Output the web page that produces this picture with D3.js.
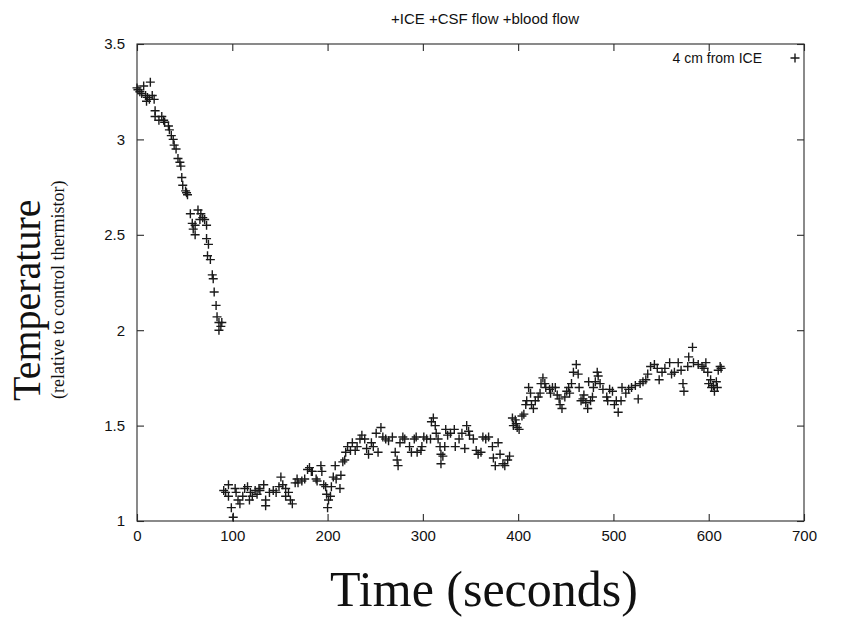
<!DOCTYPE html>
<html>
<head>
<meta charset="utf-8">
<script src="https://cdn.jsdelivr.net/npm/d3@7"></script>
<style>
  body { margin: 0; background: #fff; }
  svg { display: block; }
  .tick-label { font-family: 'Liberation Sans', Arial, sans-serif; font-size: 15px; fill: #111; }
</style>
</head>
<body>
<div id="chart"></div>
<script>
// Temperature vs time, 4 cm from ICE

const chartTitle = '+ICE +CSF flow +blood flow';
const seriesName = '4 cm from ICE';

// x ticks (seconds) and y ticks (relative temperature)
const xTicks = [0, 100, 200, 300, 400, 500, 600, 700];
const yTicks = [1, 1.5, 2, 2.5, 3, 3.5];
const yTickLabels = ['1', '1.5', '2', '2.5', '3', '3.5'];

// first segment: cooling phase
const time1 = [0, 1, 3, 5, 7, 9, 10, 11, 13, 14, 16, 18, 19, 19, 23, 26, 28, 29, 33, 34,
    36, 38, 39, 41, 43, 45, 46, 47, 48, 51, 52, 53, 56, 58, 59, 61, 61, 64, 66, 67,
    69, 71, 73, 73, 74, 75, 77, 79, 80, 81, 83, 84, 86, 86, 88, 89];
const temp1 = [3.27, 3.26, 3.25, 3.24, 3.28, 3.23, 3.20, 3.22, 3.21, 3.30, 3.23, 3.21, 3.15, 3.12, 3.10, 3.12, 3.10, 3.09, 3.07, 3.05,
    3.02, 3.00, 2.97, 2.95, 2.90, 2.88, 2.86, 2.80, 2.76, 2.73, 2.72, 2.71, 2.61, 2.56, 2.53, 2.55, 2.50, 2.63, 2.58, 2.61,
    2.59, 2.58, 2.55, 2.48, 2.39, 2.45, 2.37, 2.29, 2.27, 2.20, 2.13, 2.07, 2.04, 2.00, 2.02, 2.04];

// second segment: recovery phase
const time2 = [91, 93, 96, 96, 99, 101, 103, 104, 106, 108, 111, 113, 116, 118, 119, 121, 124, 126, 128, 129,
    133, 135, 135, 139, 143, 146, 149, 151, 153, 156, 156, 159, 161, 163, 166, 168, 169, 173, 176, 179,
    181, 183, 184, 188, 189, 193, 194, 196, 198, 199, 200, 201, 203, 204, 206, 208, 209, 213, 214, 216,
    218, 219, 221, 224, 226, 229, 231, 234, 236, 239, 241, 243, 246, 248, 251, 253, 256, 258, 261, 264,
    268, 271, 273, 274, 276, 279, 281, 286, 288, 291, 293, 294, 298, 299, 301, 304, 308, 309, 311, 313,
    314, 316, 318, 319, 319, 321, 323, 324, 326, 329, 333, 334, 338, 341, 344, 346, 348, 349, 353, 356,
    358, 361, 363, 366, 369, 373, 374, 376, 379, 381, 384, 386, 389, 391, 394, 395, 397, 398, 399, 401,
    404, 406, 408, 409, 411, 413, 414, 416, 418, 421, 423, 424, 426, 428, 429, 433, 434, 436, 439, 441,
    443, 444, 446, 449, 451, 453, 454, 456, 458, 461, 463, 464, 466, 468, 469, 471, 473, 474, 476, 478,
    479, 481, 483, 484, 486, 489, 493, 494, 496, 499, 501, 503, 505, 508, 509, 513, 516, 519, 523, 526,
    528, 531, 534, 536, 539, 543, 546, 548, 551, 554, 559, 561, 564, 568, 571, 573, 574, 578, 579, 583,
    584, 589, 593, 595, 597, 599, 600, 602, 603, 605, 606, 608, 609, 610, 612, 613];
const temp2 = [1.16, 1.15, 1.19, 1.13, 1.07, 1.02, 1.17, 1.15, 1.11, 1.09, 1.13, 1.17, 1.18, 1.11, 1.15, 1.13, 1.16, 1.14, 1.17, 1.16,
    1.19, 1.11, 1.08, 1.15, 1.16, 1.15, 1.18, 1.23, 1.19, 1.17, 1.13, 1.15, 1.11, 1.09, 1.20, 1.22, 1.20, 1.21, 1.22, 1.27,
    1.28, 1.26, 1.26, 1.22, 1.21, 1.29, 1.26, 1.19, 1.18, 1.14, 1.07, 1.11, 1.13, 1.18, 1.23, 1.29, 1.22, 1.17, 1.24, 1.31,
    1.32, 1.36, 1.39, 1.37, 1.41, 1.37, 1.39, 1.43, 1.45, 1.43, 1.38, 1.35, 1.41, 1.39, 1.46, 1.36, 1.49, 1.44, 1.43, 1.42,
    1.44, 1.36, 1.32, 1.29, 1.41, 1.44, 1.43, 1.39, 1.36, 1.43, 1.44, 1.36, 1.37, 1.39, 1.44, 1.43, 1.43, 1.52, 1.54, 1.50,
    1.46, 1.43, 1.39, 1.35, 1.30, 1.34, 1.39, 1.48, 1.45, 1.46, 1.48, 1.39, 1.43, 1.46, 1.38, 1.50, 1.47, 1.45, 1.43, 1.37,
    1.35, 1.36, 1.44, 1.43, 1.44, 1.39, 1.33, 1.29, 1.41, 1.35, 1.30, 1.29, 1.32, 1.34, 1.54, 1.50, 1.53, 1.51, 1.49, 1.48,
    1.55, 1.56, 1.61, 1.63, 1.70, 1.67, 1.61, 1.59, 1.63, 1.65, 1.67, 1.72, 1.75, 1.72, 1.70, 1.69, 1.67, 1.70, 1.70, 1.66,
    1.64, 1.61, 1.59, 1.65, 1.68, 1.70, 1.67, 1.72, 1.78, 1.82, 1.77, 1.70, 1.63, 1.64, 1.66, 1.62, 1.59, 1.73, 1.63, 1.65,
    1.70, 1.73, 1.78, 1.76, 1.72, 1.69, 1.65, 1.63, 1.69, 1.68, 1.61, 1.63, 1.57, 1.63, 1.70, 1.67, 1.69, 1.70, 1.71, 1.64,
    1.72, 1.73, 1.74, 1.77, 1.81, 1.82, 1.80, 1.74, 1.78, 1.80, 1.83, 1.77, 1.78, 1.83, 1.79, 1.72, 1.68, 1.81, 1.86, 1.91,
    1.83, 1.82, 1.81, 1.80, 1.83, 1.78, 1.72, 1.74, 1.70, 1.71, 1.68, 1.73, 1.70, 1.79, 1.81, 1.80];

const width = 851, height = 618;
const plot = { left: 137, right: 804, top: 44, bottom: 521 };

const svg = d3.select('#chart').append('svg')
    .attr('width', width)
    .attr('height', height);

const xScale = d3.scaleLinear().domain([0, 700]).range([plot.left, plot.right]);
const yScale = d3.scaleLinear().domain([1, 3.5]).range([plot.bottom, plot.top]);

const frameColor = '#2a2a2a';
const tickLen = 7;

// frame
svg.append('rect')
    .attr('x', plot.left).attr('y', plot.top)
    .attr('width', plot.right - plot.left).attr('height', plot.bottom - plot.top)
    .style('fill', 'none').style('stroke', frameColor).style('stroke-width', 1.1);

// axes (gnuplot style: inward ticks, mirrored)
const bottomAxis = d3.axisBottom(xScale).tickValues(xTicks).tickSize(-tickLen).tickPadding(9);
const topAxis = d3.axisTop(xScale).tickValues(xTicks).tickSize(-tickLen).tickFormat('');
const leftAxis = d3.axisLeft(yScale).tickValues(yTicks).tickSize(-tickLen).tickPadding(12)
    .tickFormat((d, i) => yTickLabels[i]);
const rightAxis = d3.axisRight(yScale).tickValues(yTicks).tickSize(-tickLen).tickFormat('');

function styleAxis(sel) {
    sel.attr('font-size', null).attr('font-family', null);
    sel.select('.domain').remove();
    sel.selectAll('.tick line').style('stroke', frameColor).style('stroke-width', 1.1);
    sel.selectAll('.tick text').attr('class', 'tick-label');
}

svg.append('g').attr('transform', `translate(0,${plot.bottom})`).call(bottomAxis).call(styleAxis);
svg.append('g').attr('transform', `translate(0,${plot.top})`).call(topAxis).call(styleAxis);
svg.append('g').attr('transform', `translate(${plot.left},0)`).call(leftAxis).call(styleAxis);
svg.append('g').attr('transform', `translate(${plot.right},0)`).call(rightAxis).call(styleAxis);

// title
svg.append('text')
    .attr('x', 485).attr('y', 24)
    .attr('text-anchor', 'middle')
    .style('font-family', "'Liberation Sans', Arial, sans-serif")
    .style('font-size', '15px')
    .style('fill', '#111')
    .text(chartTitle);

// axis labels
svg.append('text')
    .attr('transform', 'translate(40,401) rotate(-90)')
    .style('font-family', "'Liberation Serif', 'Times New Roman', serif")
    .style('font-size', '40px')
    .style('fill', '#111')
    .text('Temperature');

svg.append('text')
    .attr('transform', 'translate(64,399) rotate(-90)')
    .style('font-family', "'Liberation Serif', 'Times New Roman', serif")
    .style('font-size', '18px')
    .style('fill', '#111')
    .text('(relative to control thermistor)');

svg.append('text')
    .attr('x', 484).attr('y', 606)
    .attr('text-anchor', 'middle')
    .style('font-family', "'Liberation Serif', 'Times New Roman', serif")
    .style('font-size', '50px')
    .style('fill', '#111')
    .text('Time (seconds)');

// data points as "+" markers
const data = time1.map((t, i) => ({ t, v: temp1[i] }))
    .concat(time2.map((t, i) => ({ t, v: temp2[i] })));

const half = 4.5;
const plusPath = `M${-half},0H${half}M0,${-half}V${half}`;

svg.append('g')
    .selectAll('path')
    .data(data)
    .enter()
    .append('path')
    .attr('d', plusPath)
    .attr('transform', d => `translate(${xScale(d.t)},${yScale(d.v)})`)
    .style('fill', 'none')
    .style('stroke', '#1a1a1a')
    .style('stroke-width', 1.4);

// legend
svg.append('text')
    .attr('x', 762).attr('y', 63)
    .attr('text-anchor', 'end')
    .style('font-family', "'Liberation Sans', Arial, sans-serif")
    .style('font-size', '14px')
    .style('fill', '#111')
    .text(seriesName);

svg.append('path')
    .attr('d', plusPath)
    .attr('transform', 'translate(795,58)')
    .style('fill', 'none')
    .style('stroke', '#1a1a1a')
    .style('stroke-width', 1.4);
</script>
</body>
</html>
